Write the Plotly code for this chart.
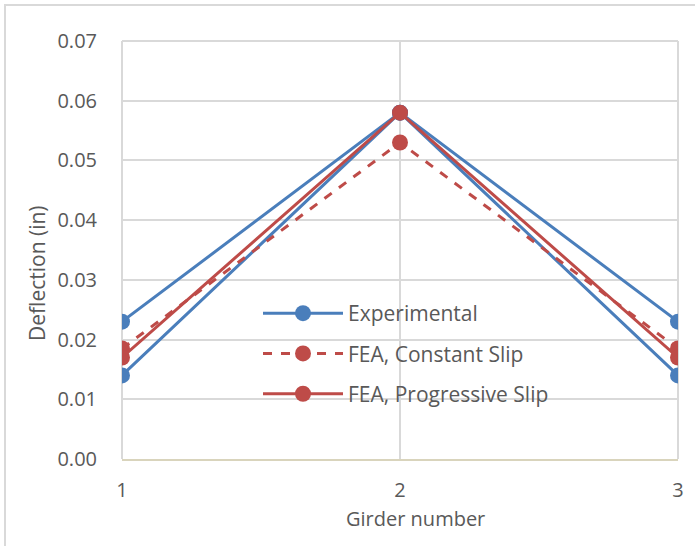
import plotly.graph_objects as go

girders = [1, 2, 3]
exp_upper = [0.023, 0.058, 0.023]
exp_lower = [0.014, 0.058, 0.014]
fea_constant = [0.0185, 0.053, 0.0185]
fea_progressive = [0.017, 0.058, 0.017]
y_ticks = [0.00, 0.01, 0.02, 0.03, 0.04, 0.05, 0.06, 0.07]

blue = "#4a7ebb"
red = "#be4b48"
font = "Open Sans"
txt = "#595959"

fig = go.Figure()
fig.add_trace(go.Scatter(
    x=girders + [None] + girders, y=exp_upper + [None] + exp_lower,
    mode="lines+markers", name="Experimental", connectgaps=False,
    line=dict(color=blue, width=3), marker=dict(color=blue, size=16),
    legendgroup="a"))
fig.add_trace(go.Scatter(
    x=girders, y=fea_constant, mode="lines+markers", name="FEA, Constant Slip",
    line=dict(color=red, width=3, dash="dash"), marker=dict(color=red, size=16),
    legendgroup="b"))
fig.add_trace(go.Scatter(
    x=girders, y=fea_progressive, mode="lines+markers", name="FEA, Progressive Slip",
    line=dict(color=red, width=3), marker=dict(color=red, size=16),
    legendgroup="c"))

W, H = 695, 546
L, R, T, B = 122, 17, 41, 87
pw, ph = W - L - R, H - T - B

def px_x(p):
    return (p - L) / pw

def px_y(p):
    return (H - B - p) / ph

fig.update_layout(
    width=W, height=H,
    margin=dict(l=L, r=R, t=T, b=B, pad=0),
    paper_bgcolor="white", plot_bgcolor="white",
    font=dict(family=font, color=txt, size=18),
    showlegend=True,
    legend=dict(
        x=px_x(258), y=px_y(293), xanchor="left", yanchor="top",
        bgcolor="rgba(0,0,0,0)", font=dict(size=21, color=txt, family=font),
        traceorder="grouped", tracegroupgap=10, itemwidth=80,
    ),
    xaxis=dict(
        range=[1, 3], tickvals=girders, ticktext=[str(g) for g in girders],
        showgrid=True, gridcolor="#d9d9d9", gridwidth=2,
        showline=True, linecolor="#d9d4bc", linewidth=2, mirror=False,
        zeroline=False, ticks="outside", ticklen=12, tickcolor="rgba(0,0,0,0)",
        tickfont=dict(size=20, color=txt),
    ),
    yaxis=dict(
        range=[0, 0.07], tickvals=y_ticks, ticktext=[f"{v:.2f}" for v in y_ticks],
        showgrid=True, gridcolor="#d9d9d9", gridwidth=2,
        showline=False, zeroline=False,
        ticks="outside", ticklen=20, tickcolor="rgba(0,0,0,0)",
        tickfont=dict(size=20, color=txt),
    ),
    annotations=[
        dict(text="Deflection (in)", xref="paper", yref="paper",
             x=px_x(37), y=px_y(273), xanchor="center", yanchor="middle",
             textangle=-90, showarrow=False, font=dict(size=21, color=txt, family=font)),
        dict(text="Girder number", xref="paper", yref="paper",
             x=px_x(415), y=px_y(518), xanchor="center", yanchor="middle",
             showarrow=False, font=dict(size=20, color=txt, family=font)),
    ],
    shapes=[
        dict(type="rect", xref="paper", yref="paper",
             x0=px_x(5), x1=px_x(720), y0=px_y(5), y1=px_y(560),
             line=dict(color="#d9d9d9", width=2), fillcolor="rgba(0,0,0,0)", layer="below"),
        dict(type="line", xref="paper", yref="paper", x0=0, x1=0, y0=0, y1=1,
             line=dict(color="#d9d9d9", width=2), layer="below"),
        dict(type="line", xref="paper", yref="paper", x0=0, x1=1, y0=1, y1=1,
             line=dict(color="#d9d9d9", width=2), layer="below"),
        dict(type="line", xref="paper", yref="paper", x0=1, x1=1, y0=0, y1=1,
             line=dict(color="#d9d9d9", width=2), layer="below"),
    ],
)

fig.write_html("out.html", config={"displayModeBar": False},
               post_script="document.body.style.margin='0';")
